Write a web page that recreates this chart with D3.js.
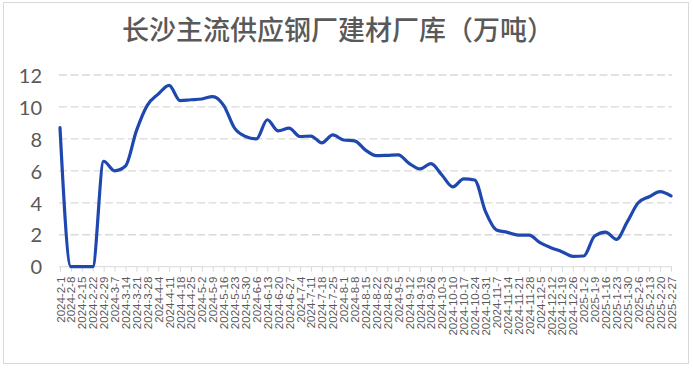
<!DOCTYPE html>
<html>
<head>
<meta charset="utf-8">
<script src="https://cdn.jsdelivr.net/npm/d3@7"></script>
<style>
  body { margin: 0; background: #fff; }
  svg { display: block; }
</style>
</head>
<body>
<svg id="chart" width="693" height="368"></svg>
<script>
const title = "长沙主流供应钢厂建材厂库（万吨）"

const dates = [
  "2024-2-1", "2024-2-8", "2024-2-15", "2024-2-22", "2024-2-29",
  "2024-3-7", "2024-3-14", "2024-3-21", "2024-3-28",
  "2024-4-4", "2024-4-11", "2024-4-18", "2024-4-25",
  "2024-5-2", "2024-5-9", "2024-5-16", "2024-5-23", "2024-5-30",
  "2024-6-6", "2024-6-13", "2024-6-20", "2024-6-27",
  "2024-7-4", "2024-7-11", "2024-7-18", "2024-7-25",
  "2024-8-1", "2024-8-8", "2024-8-15", "2024-8-22", "2024-8-29",
  "2024-9-5", "2024-9-12", "2024-9-19", "2024-9-26",
  "2024-10-3", "2024-10-10", "2024-10-17", "2024-10-24", "2024-10-31",
  "2024-11-7", "2024-11-14", "2024-11-21", "2024-11-28",
  "2024-12-5", "2024-12-12", "2024-12-19", "2024-12-26",
  "2025-1-2", "2025-1-9", "2025-1-16", "2025-1-23", "2025-1-30",
  "2025-2-6", "2025-2-13", "2025-2-20", "2025-2-27"
]

const stock = [
  8.7, 0, 0, 0, 6.6,
  6.0, 6.3, 8.5, 10.1,
  10.8, 11.35, 10.4, 10.45,
  10.5, 10.65, 10.1, 8.67, 8.15,
  8.0, 9.2, 8.5, 8.67,
  8.15, 8.18, 7.75, 8.25,
  7.93, 7.88, 7.3, 6.95, 6.97,
  7.0, 6.47, 6.12, 6.45,
  5.74, 5.0, 5.5, 5.43, 3.45,
  2.3, 2.15, 1.98, 1.98,
  1.5, 1.19, 0.94, 0.65,
  0.67, 1.92, 2.17, 1.71, 2.82,
  4.0, 4.38, 4.7, 4.43
]

const yTicks = [0, 2, 4, 6, 8, 10, 12]

const svg = d3.select("#chart")
const textColor = "#595959"
const gridColor = "#d9d9d9"

// chart frame
svg.append("rect")
  .attr("x", 3.5).attr("y", 2.5)
  .attr("width", 685).attr("height", 361)
  .attr("fill", "#fff")
  .attr("stroke", gridColor)

const x = d3.scalePoint().domain(dates).range([60, 671])
const y = d3.scaleLinear().domain([0, 12]).range([266.7, 75])

// title
svg.append("text")
  .attr("x", 338).attr("y", 40)
  .attr("text-anchor", "middle")
  .attr("fill", textColor)
  .style("font-family", "'Noto Sans CJK SC', sans-serif")
  .style("font-size", "27px")
  .style("font-weight", 500)
  .text(title)

// gridlines
svg.append("g")
  .selectAll("line")
  .data(yTicks.filter(d => d > 0))
  .join("line")
  .attr("x1", 59).attr("x2", 672)
  .attr("y1", d => y(d)).attr("y2", d => y(d))
  .attr("stroke", gridColor)
  .attr("stroke-width", 1.3)
  .attr("stroke-dasharray", "8,3.5")

// y axis labels
const yAxis = d3.axisLeft(y).tickValues(yTicks).tickSize(0).tickPadding(0)
const yg = svg.append("g").attr("transform", "translate(42,0)").call(yAxis)
yg.select(".domain").remove()
yg.selectAll("text")
  .attr("fill", textColor)
  .attr("dy", "0.36em")
  .style("font-family", "Lato, 'Open Sans', sans-serif")
  .style("font-size", "20px")

// x axis
const xAxis = d3.axisBottom(x).tickSize(5).tickPadding(4)
const xg = svg.append("g").attr("transform", `translate(0,${y(0)})`).call(xAxis)
xg.select(".domain").attr("stroke", gridColor).attr("d", `M59,0H672`)
xg.selectAll(".tick line").attr("stroke", gridColor)
xg.selectAll(".tick text")
  .attr("fill", textColor)
  .attr("transform", "rotate(-90)")
  .attr("text-anchor", "end")
  .attr("x", -10).attr("y", 0).attr("dy", "0.35em")
  .style("font-family", "'Liberation Sans', Arial, sans-serif")
  .style("font-size", "11.5px")

// line
const line = d3.line()
  .x((d, i) => x(dates[i]))
  .y(d => y(d))
  .curve(d3.curveMonotoneX)

svg.append("path")
  .datum(stock)
  .attr("fill", "none")
  .attr("stroke", "#1e48b0")
  .attr("stroke-width", 3.2)
  .attr("stroke-linejoin", "round")
  .attr("stroke-linecap", "round")
  .attr("d", line)
</script>
</body>
</html>
